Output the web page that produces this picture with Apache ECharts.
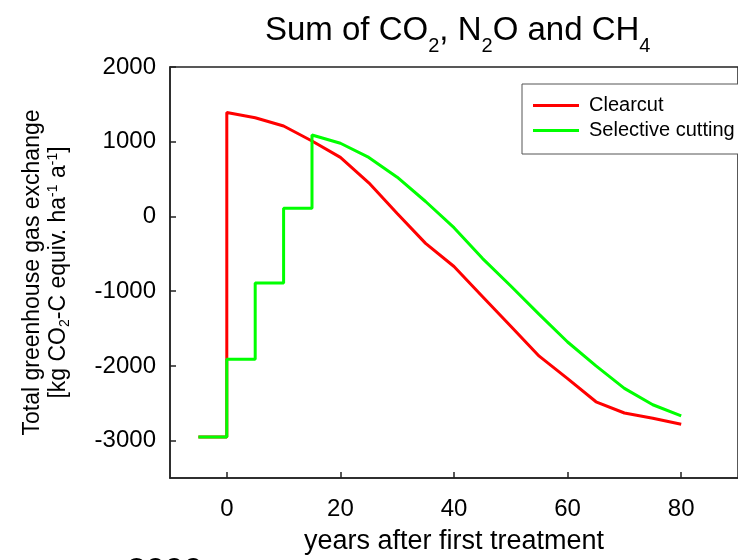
<!DOCTYPE html>
<html>
<head>
<meta charset="utf-8">
<script src="https://cdn.jsdelivr.net/npm/echarts@6/dist/echarts.min.js"></script>
<style>html,body{margin:0;padding:0;background:#fff}#c{width:738px;height:560px}</style>
</head>
<body>
<div id="c"></div>
<script>
// ---- data ----
const clearcutX = [-5, 0, 0, 5, 10, 15, 20, 25, 30, 35, 40, 45, 50, 55, 60, 65, 70, 75, 80];
const clearcutY = [-2950, -2950, 1390, 1320, 1210, 1010, 790, 450, 40, -360, -670, -1070, -1470, -1870, -2170, -2480, -2630, -2700, -2780];

const selectiveX = [-5, 0, 0, 5, 5, 10, 10, 15, 15, 20, 25, 30, 35, 40, 45, 50, 55, 60, 65, 70, 75, 80];
const selectiveY = [-2950, -2950, -1910, -1910, -890, -890, 110, 110, 1090, 980, 790, 525, 200, -150, -560, -930, -1310, -1680, -2000, -2300, -2520, -2670];

const seriesNames = ['Clearcut', 'Selective cutting'];
const xTicks = [0, 20, 40, 60, 80];
const yTicks = [-3000, -2000, -1000, 0, 1000, 2000];

const FONT = '"Liberation Sans", Arial, Helvetica, sans-serif';
const zip = (xs, ys) => xs.map((x, i) => [x, ys[i]]);
const plain = v => String(v);

const chart = echarts.init(document.getElementById('c'), null, { renderer: 'canvas' });
chart.setOption({
  animation: false,
  backgroundColor: '#ffffff',
  title: {
    text: 'Sum of CO{s|2}, N{s|2}O and CH{s|4}',
    left: 265,
    top: 6,
    padding: 0,
    textStyle: {
      fontFamily: FONT, fontSize: 33, fontWeight: 'normal', color: '#000', lineHeight: 50,
      rich: { s: { fontFamily: FONT, fontSize: 20, lineHeight: 20, verticalAlign: 'bottom', color: '#000' } }
    }
  },
  graphic: [{
    type: 'text', silent: true, x: 127, y: 555,
    style: { text: '2000', verticalAlign: 'top', align: 'left', fontFamily: FONT, fontSize: 34, fill: '#000' }
  }],
  legend: {
    orient: 'vertical',
    left: 522, top: 84,
    padding: [9, 30, 11, 11],
    itemGap: 0,
    itemWidth: 46, itemHeight: 3,
    borderColor: '#555', borderWidth: 1,
    backgroundColor: '#fff',
    textStyle: { fontFamily: FONT, fontSize: 20, color: '#000', lineHeight: 25, padding: [0, 0, 0, 5] },
    data: seriesNames.map(n => ({ name: n, icon: 'rect' }))
  },
  grid: {
    left: 170, top: 67, width: 593, height: 413,
    show: true, borderColor: '#222', borderWidth: 1.5, backgroundColor: 'transparent'
  },
  xAxis: {
    type: 'value', min: -10, max: 90,
    name: 'years after first treatment', nameLocation: 'middle', nameGap: 50,
    nameTextStyle: { fontFamily: FONT, fontSize: 27, color: '#000' },
    axisLine: { show: true, onZero: false, lineStyle: { color: '#222', width: 1.5 } },
    axisTick: { show: true, inside: true, length: 6, customValues: xTicks, lineStyle: { color: '#222', width: 1.5 } },
    axisLabel: { customValues: xTicks, formatter: plain, fontFamily: FONT, fontSize: 24, color: '#000', margin: 19 },
    splitLine: { show: false }
  },
  yAxis: {
    type: 'value', min: -3500, max: 2000,
    name: 'Total greenhouse gas exchange\n[kg CO{sb|2}-C equiv. ha{sp|-1} a{sp|-1}]',
    nameLocation: 'middle', nameGap: 98, nameRotate: 90,
    nameTextStyle: {
      fontFamily: FONT, fontSize: 23, color: '#000', lineHeight: 26, align: 'center',
      rich: {
        sb: { fontFamily: FONT, fontSize: 14, lineHeight: 14, verticalAlign: 'bottom', color: '#000' },
        sp: { fontFamily: FONT, fontSize: 14, lineHeight: 14, verticalAlign: 'top', color: '#000' }
      }
    },
    axisLine: { show: true, onZero: false, lineStyle: { color: '#222', width: 1.5 } },
    axisTick: { show: true, inside: true, length: 6, customValues: yTicks, lineStyle: { color: '#222', width: 1.5 } },
    axisLabel: { customValues: yTicks, formatter: plain, fontFamily: FONT, fontSize: 24, color: '#000', margin: 14 },
    splitLine: { show: false }
  },
  series: [
    {
      name: seriesNames[0], type: 'line', data: zip(clearcutX, clearcutY),
      symbol: 'none', lineStyle: { color: '#ff0000', width: 3 }, itemStyle: { color: '#ff0000' }
    },
    {
      name: seriesNames[1], type: 'line', data: zip(selectiveX, selectiveY),
      symbol: 'none', lineStyle: { color: '#00ff00', width: 3 }, itemStyle: { color: '#00ff00' }
    }
  ]
});
</script>
</body>
</html>
